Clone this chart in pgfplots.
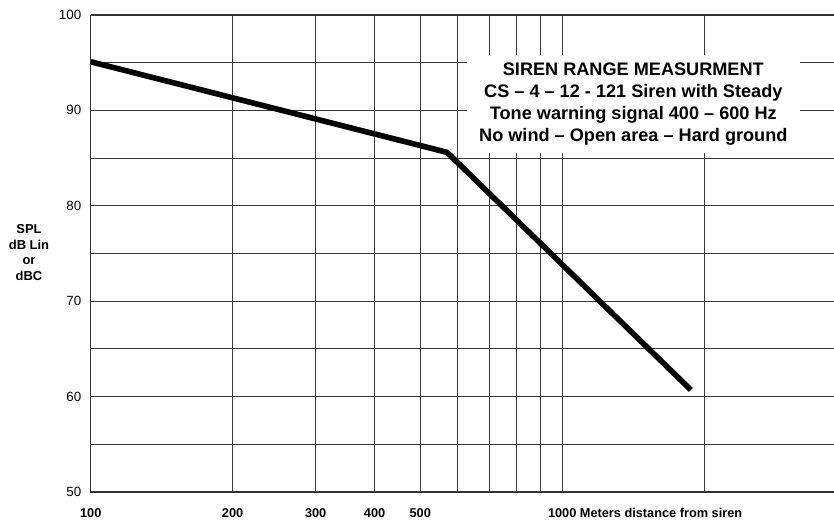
\documentclass[border=0pt]{standalone}
\usepackage{pgfplots}
\pgfplotsset{compat=1.18}
\usepackage{fontspec}
\setmainfont{Liberation Sans}
\begin{document}
\begin{tikzpicture}[x=1bp,y=1bp]
\begin{axis}[
  at={(0,0)}, anchor=south west,
  scale only axis, width=743.3bp, height=477bp,
  clip=false,
  xmode=log, xmin=100, xmax=3772, ymin=50, ymax=100,
  axis line style={draw=none},
  xtick={100,200,300,400,500,600,700,800,900,1000,2000},
  xticklabels={100,200,300,400,500,,,,,{1000\rlap{\ Meters distance from siren}},},
  ytick={50,60,70,80,90,100},
  minor ytick={55,65,75,85,95},
  minor x tick num=0,
  xmajorgrids=true, ymajorgrids=true, yminorgrids=true, xminorgrids=false,
  major grid style={draw=black!78, line width=1bp},
  minor grid style={draw=black!78, line width=1bp},
  major tick length=0pt, minor tick length=0pt,
  /pgf/number format/assume math mode=true,
  xticklabel style={font=\bfseries\fontsize{12.8}{15}\selectfont, yshift=-13bp},
  yticklabel style={font=\fontsize{13.4}{15}\selectfont, xshift=-6bp},
]
\addplot[black, line width=5.6bp] coordinates {(100,95.1) (570,85.6) (1875,60.7)};
\draw[black!80, line width=1.1bp] (rel axis cs:0,1) -- (rel axis cs:0,0) -- (rel axis cs:1,0);
\draw[black!80, line width=1.1bp] (rel axis cs:0,1) -- (rel axis cs:1,1);
\node[fill=white, inner sep=0pt, minimum width=333bp, minimum height=98bp, align=center,
  font=\bfseries\fontsize{18.2}{22}\selectfont] at (rel axis cs:0.730,0.814)
  {SIREN RANGE MEASURMENT\\CS -- 4 -- 12 - 121 Siren with Steady\\Tone warning signal 400 -- 600 Hz\\No wind -- Open area -- Hard ground};
\node[align=center, inner sep=0pt, font=\bfseries\fontsize{13}{15.5}\selectfont]
  at (rel axis cs:-0.083,0.502) {SPL\\dB Lin\\or\\dBC};
\end{axis}
\pgfresetboundingbox
\useasboundingbox (-90.7,-30) rectangle (743.3,492);
\end{tikzpicture}
\end{document}
